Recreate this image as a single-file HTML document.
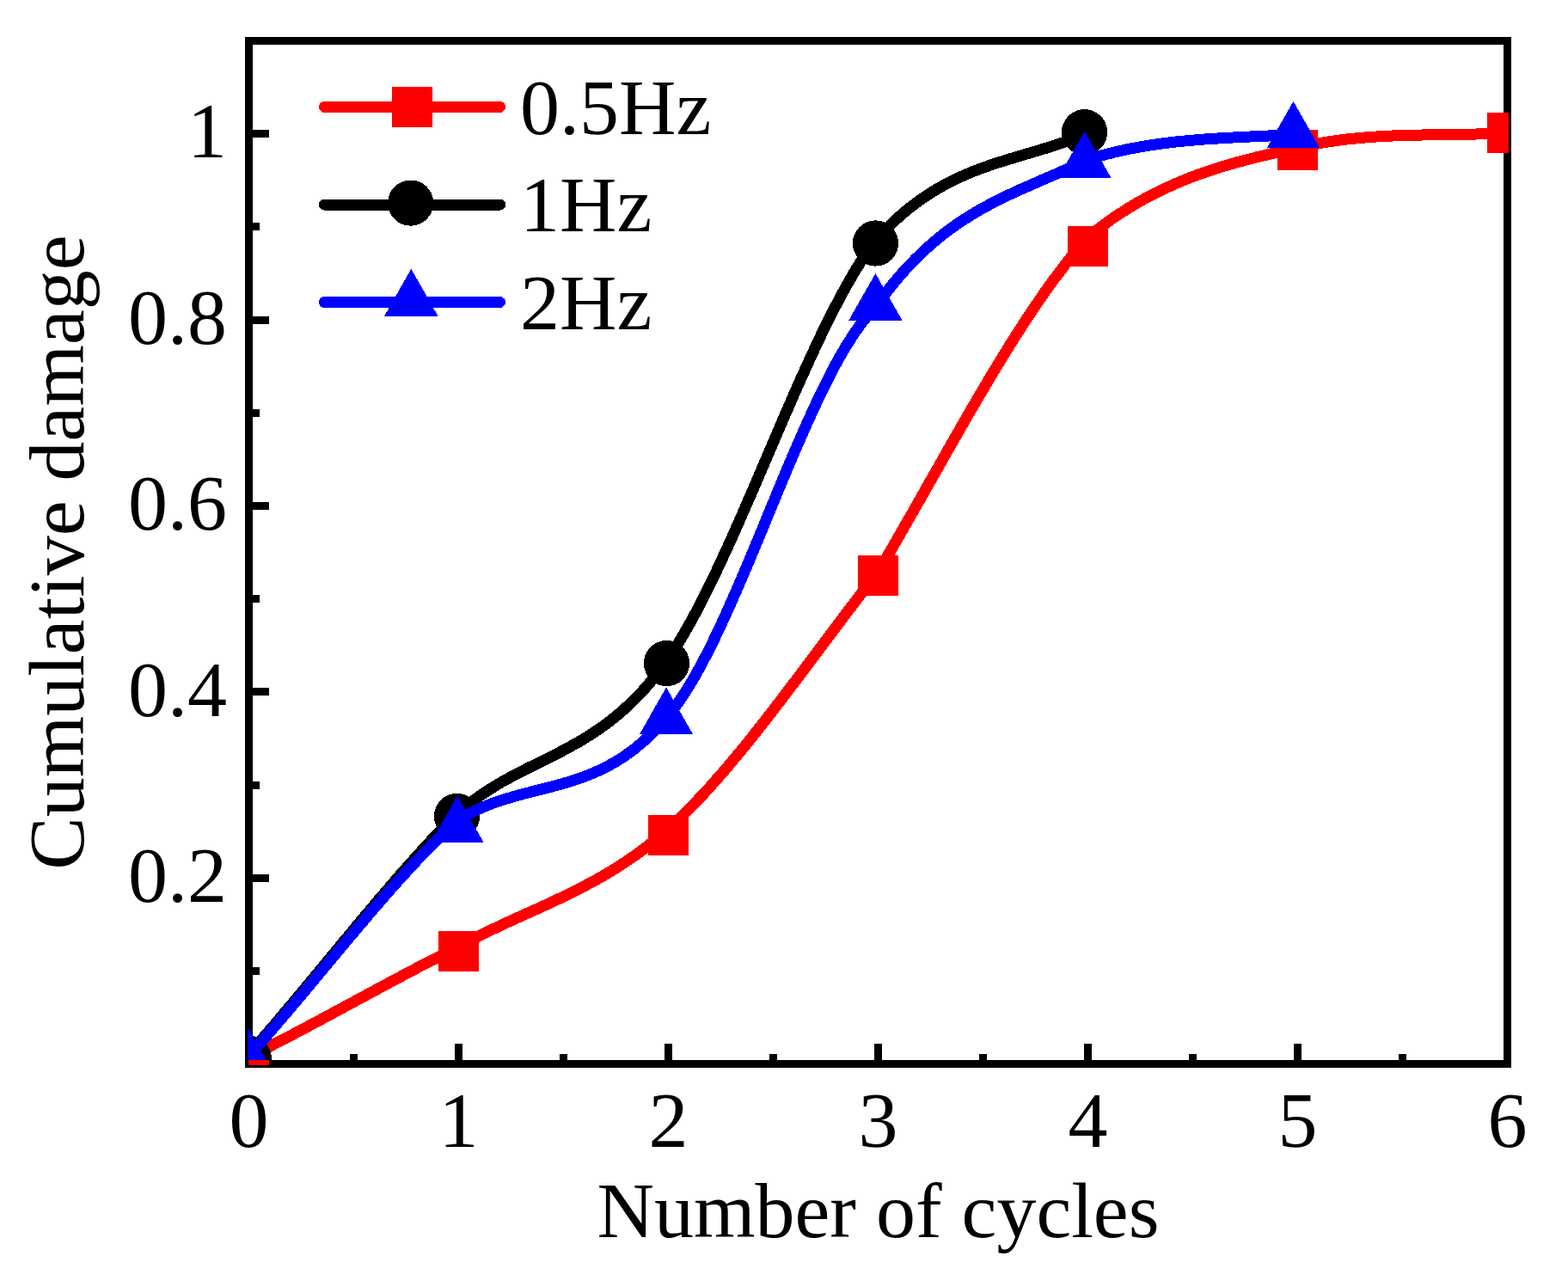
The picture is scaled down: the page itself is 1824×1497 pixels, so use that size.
<!DOCTYPE html>
<html><head><meta charset="utf-8"><title>Cumulative damage vs Number of cycles</title>
<style>html,body{margin:0;padding:0;background:#fff;overflow:hidden;}svg{display:block;}</style></head>
<body><svg shape-rendering="crispEdges" width="1824" height="1497" viewBox="0 0 1824 1497">
<rect width="1824" height="1497" fill="#fff"/>
<rect x="289.5" y="47.5" width="1464" height="1190" fill="none" stroke="#000" stroke-width="9"/>
<path d="M533.5,1237 V1214 M777.5,1237 V1214 M1021.5,1237 V1214 M1265.5,1237 V1214 M1509.5,1237 V1214 M411.5,1237 V1226 M655.5,1237 V1226 M899.5,1237 V1226 M1143.5,1237 V1226 M1387.5,1237 V1226 M1631.5,1237 V1226 M290,1021.1 H313 M290,804.8 H313 M290,588.4 H313 M290,372.0 H313 M290,155.7 H313 M290,1129.3 H302 M290,913.0 H302 M290,696.6 H302 M290,480.2 H302 M290,263.9 H302" stroke="#000" stroke-width="9" fill="none"/>
<defs><clipPath id="cr"><rect x="289" y="40" width="1466" height="1199"/></clipPath><clipPath id="cb"><rect x="288" y="40" width="1466" height="1193"/></clipPath></defs>
<g clip-path="url(#cr)"><path d="M289.5,1229.3 L292.5,1227.8 L295.5,1226.3 L298.5,1224.8 L301.5,1223.3 L304.6,1221.8 L307.6,1220.3 L310.6,1218.8 L313.6,1217.2 L316.6,1215.7 L319.6,1214.1 L322.6,1212.6 L325.6,1211.0 L328.7,1209.5 L331.7,1207.9 L334.7,1206.3 L337.7,1204.8 L340.7,1203.2 L343.7,1201.6 L346.7,1200.0 L349.7,1198.4 L352.8,1196.8 L355.8,1195.2 L358.8,1193.6 L361.8,1192.0 L364.8,1190.4 L367.8,1188.8 L370.8,1187.2 L373.8,1185.6 L376.9,1184.0 L379.9,1182.4 L382.9,1180.8 L385.9,1179.1 L388.9,1177.5 L391.9,1175.9 L394.9,1174.3 L397.9,1172.6 L401.0,1171.0 L404.0,1169.4 L407.0,1167.8 L410.0,1166.1 L413.0,1164.5 L416.0,1162.9 L419.0,1161.2 L422.0,1159.6 L425.1,1158.0 L428.1,1156.4 L431.1,1154.7 L434.1,1153.1 L437.1,1151.5 L440.1,1149.9 L443.1,1148.2 L446.1,1146.6 L449.2,1145.0 L452.2,1143.4 L455.2,1141.8 L458.2,1140.2 L461.2,1138.6 L464.2,1137.0 L467.2,1135.4 L470.2,1133.8 L473.3,1132.2 L476.3,1130.6 L479.3,1129.0 L482.3,1127.4 L485.3,1125.8 L488.3,1124.3 L491.3,1122.7 L494.3,1121.1 L497.4,1119.6 L500.4,1118.0 L503.4,1116.5 L506.4,1114.9 L509.4,1113.4 L512.4,1111.8 L515.4,1110.3 L518.4,1108.8 L521.5,1107.3 L524.5,1105.8 L527.5,1104.3 L530.5,1102.8 L533.5,1101.3 L533.5,1101.3 L536.5,1099.6 L539.5,1098.0 L542.5,1096.3 L545.5,1094.7 L548.6,1093.1 L551.6,1091.6 L554.6,1090.0 L557.6,1088.5 L560.6,1087.0 L563.6,1085.5 L566.6,1084.0 L569.6,1082.5 L572.7,1081.1 L575.7,1079.7 L578.7,1078.2 L581.7,1076.8 L584.7,1075.4 L587.7,1074.0 L590.7,1072.6 L593.7,1071.2 L596.8,1069.8 L599.8,1068.5 L602.8,1067.1 L605.8,1065.7 L608.8,1064.4 L611.8,1063.0 L614.8,1061.7 L617.8,1060.3 L620.9,1058.9 L623.9,1057.6 L626.9,1056.2 L629.9,1054.8 L632.9,1053.5 L635.9,1052.1 L638.9,1050.7 L641.9,1049.3 L645.0,1047.9 L648.0,1046.5 L651.0,1045.0 L654.0,1043.6 L657.0,1042.2 L660.0,1040.7 L663.0,1039.2 L666.0,1037.7 L669.1,1036.2 L672.1,1034.7 L675.1,1033.2 L678.1,1031.6 L681.1,1030.0 L684.1,1028.4 L687.1,1026.8 L690.1,1025.2 L693.2,1023.5 L696.2,1021.8 L699.2,1020.1 L702.2,1018.4 L705.2,1016.6 L708.2,1014.8 L711.2,1013.0 L714.2,1011.2 L717.3,1009.3 L720.3,1007.4 L723.3,1005.4 L726.3,1003.5 L729.3,1001.4 L732.3,999.4 L735.3,997.3 L738.3,995.2 L741.4,993.1 L744.4,990.9 L747.4,988.6 L750.4,986.4 L753.4,984.0 L756.4,981.7 L759.4,979.3 L762.4,976.8 L765.5,974.4 L768.5,971.8 L771.5,969.2 L774.5,966.6 L777.5,963.9 L777.5,963.9 L780.5,961.2 L783.5,958.5 L786.5,955.7 L789.5,952.8 L792.6,949.9 L795.6,947.0 L798.6,944.0 L801.6,941.0 L804.6,937.9 L807.6,934.8 L810.6,931.7 L813.6,928.5 L816.7,925.3 L819.7,922.1 L822.7,918.8 L825.7,915.5 L828.7,912.1 L831.7,908.7 L834.7,905.3 L837.7,901.9 L840.8,898.4 L843.8,894.9 L846.8,891.4 L849.8,887.8 L852.8,884.2 L855.8,880.6 L858.8,877.0 L861.8,873.3 L864.9,869.7 L867.9,866.0 L870.9,862.2 L873.9,858.5 L876.9,854.7 L879.9,850.9 L882.9,847.1 L885.9,843.3 L889.0,839.4 L892.0,835.6 L895.0,831.7 L898.0,827.8 L901.0,823.9 L904.0,820.0 L907.0,816.1 L910.0,812.1 L913.1,808.2 L916.1,804.2 L919.1,800.2 L922.1,796.2 L925.1,792.3 L928.1,788.3 L931.1,784.3 L934.1,780.3 L937.2,776.2 L940.2,772.2 L943.2,768.2 L946.2,764.2 L949.2,760.2 L952.2,756.1 L955.2,752.1 L958.2,748.1 L961.3,744.1 L964.3,740.1 L967.3,736.1 L970.3,732.1 L973.3,728.0 L976.3,724.1 L979.3,720.1 L982.3,716.1 L985.4,712.1 L988.4,708.1 L991.4,704.2 L994.4,700.2 L997.4,696.3 L1000.4,692.4 L1003.4,688.5 L1006.4,684.6 L1009.5,680.7 L1012.5,676.8 L1015.5,673.0 L1018.5,669.2 L1021.5,665.4 L1021.5,665.4 L1024.5,660.2 L1027.5,655.1 L1030.5,649.9 L1033.5,644.8 L1036.6,639.6 L1039.6,634.4 L1042.6,629.2 L1045.6,623.9 L1048.6,618.7 L1051.6,613.4 L1054.6,608.1 L1057.6,602.9 L1060.7,597.6 L1063.7,592.3 L1066.7,587.0 L1069.7,581.7 L1072.7,576.4 L1075.7,571.1 L1078.7,565.7 L1081.7,560.4 L1084.8,555.1 L1087.8,549.8 L1090.8,544.5 L1093.8,539.2 L1096.8,533.9 L1099.8,528.6 L1102.8,523.3 L1105.8,518.0 L1108.9,512.7 L1111.9,507.4 L1114.9,502.2 L1117.9,496.9 L1120.9,491.7 L1123.9,486.5 L1126.9,481.2 L1129.9,476.1 L1133.0,470.9 L1136.0,465.7 L1139.0,460.6 L1142.0,455.5 L1145.0,450.4 L1148.0,445.3 L1151.0,440.3 L1154.0,435.2 L1157.1,430.2 L1160.1,425.2 L1163.1,420.3 L1166.1,415.4 L1169.1,410.5 L1172.1,405.6 L1175.1,400.8 L1178.1,396.0 L1181.2,391.2 L1184.2,386.5 L1187.2,381.8 L1190.2,377.2 L1193.2,372.6 L1196.2,368.0 L1199.2,363.5 L1202.2,359.0 L1205.3,354.5 L1208.3,350.1 L1211.3,345.7 L1214.3,341.4 L1217.3,337.1 L1220.3,332.9 L1223.3,328.7 L1226.3,324.6 L1229.4,320.5 L1232.4,316.5 L1235.4,312.5 L1238.4,308.6 L1241.4,304.7 L1244.4,300.9 L1247.4,297.2 L1250.4,293.5 L1253.5,289.8 L1256.5,286.3 L1259.5,282.7 L1262.5,279.3 L1265.5,275.9 L1265.5,275.9 L1268.5,273.5 L1271.5,271.0 L1274.5,268.7 L1277.5,266.4 L1280.6,264.1 L1283.6,261.8 L1286.6,259.6 L1289.6,257.5 L1292.6,255.3 L1295.6,253.2 L1298.6,251.2 L1301.6,249.2 L1304.7,247.2 L1307.7,245.3 L1310.7,243.4 L1313.7,241.5 L1316.7,239.7 L1319.7,237.9 L1322.7,236.1 L1325.7,234.4 L1328.8,232.7 L1331.8,231.0 L1334.8,229.4 L1337.8,227.8 L1340.8,226.2 L1343.8,224.7 L1346.8,223.2 L1349.8,221.7 L1352.9,220.3 L1355.9,218.9 L1358.9,217.5 L1361.9,216.1 L1364.9,214.8 L1367.9,213.4 L1370.9,212.2 L1373.9,210.9 L1377.0,209.7 L1380.0,208.4 L1383.0,207.3 L1386.0,206.1 L1389.0,204.9 L1392.0,203.8 L1395.0,202.7 L1398.0,201.6 L1401.1,200.6 L1404.1,199.6 L1407.1,198.5 L1410.1,197.5 L1413.1,196.6 L1416.1,195.6 L1419.1,194.7 L1422.1,193.7 L1425.2,192.8 L1428.2,191.9 L1431.2,191.0 L1434.2,190.2 L1437.2,189.3 L1440.2,188.5 L1443.2,187.7 L1446.2,186.9 L1449.3,186.1 L1452.3,185.3 L1455.3,184.5 L1458.3,183.8 L1461.3,183.0 L1464.3,182.3 L1467.3,181.5 L1470.3,180.8 L1473.4,180.1 L1476.4,179.4 L1479.4,178.7 L1482.4,178.0 L1485.4,177.3 L1488.4,176.6 L1491.4,176.0 L1494.4,175.3 L1497.5,174.6 L1500.5,174.0 L1503.5,173.3 L1506.5,172.7 L1509.5,172.0 L1509.5,172.0 L1512.5,171.3 L1515.5,170.6 L1518.5,169.9 L1521.5,169.3 L1524.6,168.7 L1527.6,168.1 L1530.6,167.5 L1533.6,166.9 L1536.6,166.4 L1539.6,165.9 L1542.6,165.4 L1545.6,164.9 L1548.7,164.4 L1551.7,164.0 L1554.7,163.6 L1557.7,163.1 L1560.7,162.8 L1563.7,162.4 L1566.7,162.0 L1569.7,161.7 L1572.8,161.4 L1575.8,161.1 L1578.8,160.8 L1581.8,160.5 L1584.8,160.2 L1587.8,160.0 L1590.8,159.7 L1593.8,159.5 L1596.9,159.3 L1599.9,159.1 L1602.9,158.9 L1605.9,158.7 L1608.9,158.5 L1611.9,158.4 L1614.9,158.2 L1617.9,158.1 L1621.0,157.9 L1624.0,157.8 L1627.0,157.7 L1630.0,157.6 L1633.0,157.5 L1636.0,157.4 L1639.0,157.3 L1642.0,157.2 L1645.1,157.2 L1648.1,157.1 L1651.1,157.0 L1654.1,157.0 L1657.1,156.9 L1660.1,156.9 L1663.1,156.8 L1666.1,156.8 L1669.2,156.7 L1672.2,156.7 L1675.2,156.6 L1678.2,156.6 L1681.2,156.6 L1684.2,156.5 L1687.2,156.5 L1690.2,156.4 L1693.3,156.4 L1696.3,156.4 L1699.3,156.3 L1702.3,156.3 L1705.3,156.2 L1708.3,156.2 L1711.3,156.1 L1714.3,156.1 L1717.4,156.0 L1720.4,155.9 L1723.4,155.8 L1726.4,155.8 L1729.4,155.7 L1732.4,155.6 L1735.4,155.5 L1738.4,155.4 L1741.5,155.3 L1744.5,155.2 L1747.5,155.0 L1750.5,154.9 L1753.5,154.7" stroke="#f00" stroke-width="13" fill="none" stroke-linejoin="round" stroke-linecap="round"/>
<g fill="#f00"><rect x="266.0" y="1210.0" width="47" height="47"/><rect x="510.0" y="1083.0" width="47" height="47"/><rect x="754.0" y="947.5" width="47" height="47"/><rect x="998.0" y="646.0" width="47" height="47"/><rect x="1242.0" y="263.3" width="47" height="47"/><rect x="1486.0" y="151.0" width="47" height="47"/><rect x="1730.0" y="131.4" width="47" height="47"/></g></g>
<g clip-path="url(#cb)"><path d="M288.6,1227.2 L291.6,1223.7 L294.7,1220.3 L297.7,1216.8 L300.7,1213.4 L303.8,1209.9 L306.8,1206.4 L309.9,1202.9 L312.9,1199.3 L315.9,1195.8 L319.0,1192.3 L322.0,1188.7 L325.0,1185.1 L328.1,1181.5 L331.1,1177.9 L334.1,1174.3 L337.2,1170.7 L340.2,1167.1 L343.3,1163.5 L346.3,1159.9 L349.3,1156.2 L352.4,1152.6 L355.4,1148.9 L358.4,1145.3 L361.5,1141.6 L364.5,1138.0 L367.5,1134.3 L370.6,1130.6 L373.6,1127.0 L376.7,1123.3 L379.7,1119.6 L382.7,1115.9 L385.8,1112.3 L388.8,1108.6 L391.8,1104.9 L394.9,1101.3 L397.9,1097.6 L400.9,1093.9 L404.0,1090.3 L407.0,1086.6 L410.1,1083.0 L413.1,1079.3 L416.1,1075.7 L419.2,1072.0 L422.2,1068.4 L425.2,1064.8 L428.3,1061.2 L431.3,1057.6 L434.3,1054.0 L437.4,1050.4 L440.4,1046.8 L443.4,1043.2 L446.5,1039.7 L449.5,1036.1 L452.6,1032.6 L455.6,1029.1 L458.6,1025.6 L461.7,1022.1 L464.7,1018.6 L467.7,1015.1 L470.8,1011.7 L473.8,1008.2 L476.8,1004.8 L479.9,1001.4 L482.9,998.0 L486.0,994.7 L489.0,991.3 L492.0,988.0 L495.1,984.7 L498.1,981.4 L501.1,978.1 L504.2,974.8 L507.2,971.6 L510.2,968.4 L513.3,965.2 L516.3,962.0 L519.4,958.9 L522.4,955.8 L525.4,952.7 L528.5,949.6 L531.5,946.6 L531.5,946.6 L534.5,944.0 L537.5,941.4 L540.5,939.0 L543.5,936.6 L546.6,934.2 L549.6,931.9 L552.6,929.7 L555.6,927.6 L558.6,925.4 L561.6,923.4 L564.6,921.4 L567.6,919.4 L570.7,917.5 L573.7,915.6 L576.7,913.8 L579.7,912.0 L582.7,910.2 L585.7,908.5 L588.7,906.8 L591.7,905.2 L594.8,903.5 L597.8,901.9 L600.8,900.3 L603.8,898.7 L606.8,897.2 L609.8,895.7 L612.8,894.1 L615.8,892.6 L618.9,891.1 L621.9,889.6 L624.9,888.1 L627.9,886.6 L630.9,885.1 L633.9,883.7 L636.9,882.2 L639.9,880.7 L643.0,879.1 L646.0,877.6 L649.0,876.1 L652.0,874.5 L655.0,873.0 L658.0,871.4 L661.0,869.7 L664.0,868.1 L667.1,866.4 L670.1,864.7 L673.1,863.0 L676.1,861.2 L679.1,859.4 L682.1,857.6 L685.1,855.7 L688.1,853.8 L691.2,851.8 L694.2,849.8 L697.2,847.7 L700.2,845.6 L703.2,843.4 L706.2,841.2 L709.2,838.9 L712.2,836.6 L715.3,834.1 L718.3,831.7 L721.3,829.1 L724.3,826.5 L727.3,823.8 L730.3,821.0 L733.3,818.2 L736.3,815.3 L739.4,812.3 L742.4,809.2 L745.4,806.0 L748.4,802.7 L751.4,799.4 L754.4,795.9 L757.4,792.4 L760.4,788.7 L763.5,785.0 L766.5,781.1 L769.5,777.2 L772.5,773.1 L775.5,769.0 L775.5,769.0 L778.5,764.6 L781.5,760.1 L784.5,755.4 L787.5,750.6 L790.5,745.8 L793.5,740.7 L796.5,735.6 L799.5,730.4 L802.5,725.0 L805.5,719.6 L808.5,714.0 L811.5,708.3 L814.5,702.6 L817.5,696.7 L820.5,690.8 L823.5,684.8 L826.5,678.7 L829.5,672.5 L832.5,666.2 L835.5,659.9 L838.5,653.5 L841.5,647.0 L844.5,640.5 L847.5,633.9 L850.5,627.3 L853.5,620.6 L856.5,613.9 L859.5,607.1 L862.5,600.3 L865.5,593.5 L868.5,586.6 L871.5,579.7 L874.5,572.8 L877.5,565.8 L880.5,558.8 L883.5,551.9 L886.5,544.9 L889.5,537.9 L892.5,530.9 L895.5,523.8 L898.5,516.8 L901.5,509.8 L904.5,502.9 L907.5,495.9 L910.5,488.9 L913.5,482.0 L916.5,475.1 L919.5,468.2 L922.5,461.3 L925.5,454.5 L928.5,447.8 L931.5,441.0 L934.5,434.3 L937.5,427.7 L940.5,421.1 L943.5,414.6 L946.5,408.1 L949.5,401.7 L952.5,395.3 L955.5,389.0 L958.5,382.8 L961.5,376.7 L964.5,370.7 L967.5,364.7 L970.5,358.8 L973.5,353.1 L976.5,347.4 L979.5,341.8 L982.5,336.3 L985.5,330.9 L988.5,325.6 L991.5,320.5 L994.5,315.4 L997.5,310.5 L1000.5,305.7 L1003.5,301.0 L1006.5,296.5 L1009.5,292.1 L1012.5,287.8 L1015.5,283.7 L1018.5,279.7 L1018.5,279.7 L1021.5,276.3 L1024.5,273.1 L1027.5,269.9 L1030.5,266.8 L1033.5,263.8 L1036.5,260.8 L1039.5,258.0 L1042.5,255.2 L1045.5,252.5 L1048.5,249.8 L1051.5,247.3 L1054.5,244.8 L1057.5,242.3 L1060.5,240.0 L1063.5,237.7 L1066.5,235.4 L1069.5,233.3 L1072.5,231.2 L1075.5,229.1 L1078.5,227.1 L1081.5,225.2 L1084.5,223.3 L1087.5,221.4 L1090.5,219.7 L1093.5,217.9 L1096.5,216.2 L1099.5,214.6 L1102.5,213.0 L1105.5,211.5 L1108.5,210.0 L1111.5,208.5 L1114.5,207.1 L1117.5,205.7 L1120.5,204.4 L1123.5,203.1 L1126.5,201.8 L1129.5,200.5 L1132.5,199.3 L1135.5,198.1 L1138.5,197.0 L1141.6,195.9 L1144.6,194.8 L1147.6,193.7 L1150.6,192.6 L1153.6,191.6 L1156.6,190.6 L1159.6,189.6 L1162.6,188.6 L1165.6,187.7 L1168.6,186.7 L1171.6,185.8 L1174.6,184.9 L1177.6,184.0 L1180.6,183.1 L1183.6,182.2 L1186.6,181.3 L1189.6,180.4 L1192.6,179.5 L1195.6,178.6 L1198.6,177.7 L1201.6,176.8 L1204.6,176.0 L1207.6,175.1 L1210.6,174.2 L1213.6,173.2 L1216.6,172.3 L1219.6,171.4 L1222.6,170.5 L1225.6,169.5 L1228.6,168.5 L1231.6,167.5 L1234.6,166.5 L1237.6,165.5 L1240.6,164.5 L1243.6,163.4 L1246.6,162.3 L1249.6,161.2 L1252.6,160.1 L1255.6,158.9 L1258.6,157.7 L1261.6,156.5" stroke="#000" stroke-width="13" fill="none" stroke-linejoin="round" stroke-linecap="round"/>
<g fill="#000"><circle cx="289.3" cy="1231.0" r="26.6"/><circle cx="531.5" cy="949.4" r="26.6"/><circle cx="775.5" cy="771.6" r="26.6"/><circle cx="1018.5" cy="283.0" r="26.6"/><circle cx="1261.6" cy="153.7" r="26.6"/></g>
<path d="M288.6,1229.2 L291.6,1225.8 L294.6,1222.5 L297.6,1219.1 L300.6,1215.7 L303.6,1212.3 L306.6,1208.9 L309.6,1205.4 L312.6,1202.0 L315.6,1198.5 L318.6,1195.0 L321.6,1191.5 L324.6,1188.0 L327.6,1184.5 L330.7,1181.0 L333.7,1177.4 L336.7,1173.9 L339.7,1170.3 L342.7,1166.8 L345.7,1163.2 L348.7,1159.6 L351.7,1156.0 L354.7,1152.5 L357.7,1148.9 L360.7,1145.3 L363.7,1141.7 L366.7,1138.0 L369.7,1134.4 L372.7,1130.8 L375.7,1127.2 L378.7,1123.6 L381.7,1120.0 L384.7,1116.4 L387.7,1112.8 L390.7,1109.2 L393.7,1105.6 L396.7,1102.0 L399.7,1098.4 L402.7,1094.8 L405.7,1091.2 L408.7,1087.6 L411.8,1084.1 L414.8,1080.5 L417.8,1076.9 L420.8,1073.4 L423.8,1069.9 L426.8,1066.3 L429.8,1062.8 L432.8,1059.3 L435.8,1055.8 L438.8,1052.3 L441.8,1048.9 L444.8,1045.4 L447.8,1042.0 L450.8,1038.6 L453.8,1035.1 L456.8,1031.8 L459.8,1028.4 L462.8,1025.0 L465.8,1021.7 L468.8,1018.4 L471.8,1015.1 L474.8,1011.8 L477.8,1008.5 L480.8,1005.3 L483.8,1002.1 L486.8,998.9 L489.8,995.7 L492.9,992.6 L495.9,989.5 L498.9,986.4 L501.9,983.3 L504.9,980.3 L507.9,977.3 L510.9,974.3 L513.9,971.4 L516.9,968.4 L519.9,965.5 L522.9,962.7 L525.9,959.8 L528.9,957.0 L531.9,954.3 L531.9,954.3 L534.9,952.5 L537.9,950.7 L540.9,949.0 L543.9,947.4 L546.9,945.8 L549.9,944.3 L552.9,942.8 L555.9,941.5 L558.9,940.1 L561.9,938.8 L564.9,937.6 L567.9,936.4 L570.9,935.2 L573.9,934.1 L576.9,933.0 L579.9,932.0 L582.9,931.0 L585.9,930.0 L588.9,929.1 L591.9,928.2 L594.9,927.3 L597.9,926.4 L600.9,925.6 L603.9,924.8 L606.9,923.9 L609.9,923.2 L612.9,922.4 L615.9,921.6 L618.9,920.8 L621.9,920.1 L624.9,919.3 L627.9,918.6 L630.9,917.8 L633.9,917.1 L636.9,916.3 L639.9,915.5 L642.9,914.7 L645.9,913.9 L648.9,913.1 L651.9,912.3 L655.0,911.4 L658.0,910.5 L661.0,909.6 L664.0,908.7 L667.0,907.8 L670.0,906.8 L673.0,905.8 L676.0,904.7 L679.0,903.6 L682.0,902.5 L685.0,901.3 L688.0,900.1 L691.0,898.8 L694.0,897.5 L697.0,896.1 L700.0,894.7 L703.0,893.2 L706.0,891.7 L709.0,890.1 L712.0,888.4 L715.0,886.7 L718.0,884.9 L721.0,883.0 L724.0,881.1 L727.0,879.1 L730.0,877.0 L733.0,874.8 L736.0,872.6 L739.0,870.3 L742.0,867.8 L745.0,865.3 L748.0,862.7 L751.0,860.1 L754.0,857.3 L757.0,854.4 L760.0,851.4 L763.0,848.3 L766.0,845.2 L769.0,841.9 L772.0,838.5 L775.0,835.0 L775.0,835.0 L778.0,831.5 L781.0,827.8 L784.0,824.0 L787.0,819.9 L790.0,815.7 L793.0,811.3 L796.0,806.8 L799.0,802.0 L802.0,797.1 L805.0,792.1 L808.1,786.9 L811.1,781.6 L814.1,776.1 L817.1,770.5 L820.1,764.8 L823.1,759.0 L826.1,753.0 L829.1,746.9 L832.1,740.8 L835.1,734.5 L838.1,728.1 L841.1,721.6 L844.1,715.0 L847.1,708.4 L850.1,701.7 L853.1,694.9 L856.1,688.0 L859.1,681.1 L862.1,674.1 L865.1,667.1 L868.2,660.0 L871.2,652.8 L874.2,645.7 L877.2,638.5 L880.2,631.3 L883.2,624.0 L886.2,616.8 L889.2,609.5 L892.2,602.2 L895.2,594.9 L898.2,587.7 L901.2,580.4 L904.2,573.1 L907.2,565.9 L910.2,558.7 L913.2,551.5 L916.2,544.3 L919.2,537.2 L922.2,530.2 L925.2,523.1 L928.3,516.2 L931.3,509.3 L934.3,502.4 L937.3,495.7 L940.3,489.0 L943.3,482.3 L946.3,475.8 L949.3,469.4 L952.3,463.0 L955.3,456.7 L958.3,450.6 L961.3,444.6 L964.3,438.6 L967.3,432.8 L970.3,427.1 L973.3,421.6 L976.3,416.2 L979.3,410.9 L982.3,405.8 L985.3,400.8 L988.4,396.0 L991.4,391.3 L994.4,386.8 L997.4,382.5 L1000.4,378.3 L1003.4,374.3 L1006.4,370.5 L1009.4,366.9 L1012.4,363.5 L1015.4,360.3 L1018.4,357.3 L1018.4,357.3 L1021.4,353.1 L1024.4,348.9 L1027.4,344.9 L1030.4,340.9 L1033.4,337.0 L1036.4,333.3 L1039.4,329.5 L1042.4,325.9 L1045.4,322.4 L1048.4,318.9 L1051.4,315.5 L1054.4,312.2 L1057.4,309.0 L1060.5,305.8 L1063.5,302.7 L1066.5,299.7 L1069.5,296.8 L1072.5,293.9 L1075.5,291.1 L1078.5,288.3 L1081.5,285.7 L1084.5,283.0 L1087.5,280.5 L1090.5,278.0 L1093.5,275.5 L1096.5,273.1 L1099.5,270.8 L1102.5,268.5 L1105.5,266.3 L1108.5,264.1 L1111.5,262.0 L1114.5,259.9 L1117.5,257.9 L1120.5,255.9 L1123.5,254.0 L1126.5,252.1 L1129.5,250.2 L1132.5,248.4 L1135.5,246.6 L1138.5,244.8 L1141.6,243.1 L1144.6,241.4 L1147.6,239.8 L1150.6,238.2 L1153.6,236.6 L1156.6,235.0 L1159.6,233.5 L1162.6,232.0 L1165.6,230.5 L1168.6,229.1 L1171.6,227.6 L1174.6,226.2 L1177.6,224.8 L1180.6,223.4 L1183.6,222.0 L1186.6,220.7 L1189.6,219.3 L1192.6,218.0 L1195.6,216.7 L1198.6,215.4 L1201.6,214.0 L1204.6,212.7 L1207.6,211.4 L1210.6,210.1 L1213.6,208.8 L1216.6,207.5 L1219.6,206.2 L1222.7,204.9 L1225.7,203.6 L1228.7,202.3 L1231.7,201.0 L1234.7,199.6 L1237.7,198.3 L1240.7,196.9 L1243.7,195.5 L1246.7,194.2 L1249.7,192.8 L1252.7,191.3 L1255.7,189.9 L1258.7,188.4 L1261.7,186.9 L1261.7,186.9 L1264.7,186.0 L1267.8,185.0 L1270.8,184.0 L1273.8,183.1 L1276.9,182.2 L1279.9,181.4 L1282.9,180.5 L1286.0,179.7 L1289.0,178.9 L1292.0,178.2 L1295.1,177.4 L1298.1,176.7 L1301.2,176.0 L1304.2,175.3 L1307.2,174.6 L1310.3,174.0 L1313.3,173.3 L1316.3,172.7 L1319.4,172.2 L1322.4,171.6 L1325.4,171.0 L1328.5,170.5 L1331.5,170.0 L1334.5,169.5 L1337.6,169.0 L1340.6,168.5 L1343.6,168.1 L1346.7,167.7 L1349.7,167.2 L1352.8,166.8 L1355.8,166.4 L1358.8,166.1 L1361.9,165.7 L1364.9,165.4 L1367.9,165.0 L1371.0,164.7 L1374.0,164.4 L1377.0,164.1 L1380.1,163.8 L1383.1,163.5 L1386.1,163.2 L1389.2,163.0 L1392.2,162.7 L1395.2,162.5 L1398.3,162.3 L1401.3,162.0 L1404.3,161.8 L1407.4,161.6 L1410.4,161.4 L1413.5,161.2 L1416.5,161.0 L1419.5,160.8 L1422.6,160.6 L1425.6,160.5 L1428.6,160.3 L1431.7,160.1 L1434.7,160.0 L1437.7,159.8 L1440.8,159.7 L1443.8,159.5 L1446.8,159.4 L1449.9,159.2 L1452.9,159.1 L1455.9,158.9 L1459.0,158.8 L1462.0,158.6 L1465.0,158.5 L1468.1,158.3 L1471.1,158.2 L1474.2,158.1 L1477.2,157.9 L1480.2,157.8 L1483.3,157.6 L1486.3,157.4 L1489.3,157.3 L1492.4,157.1 L1495.4,156.9 L1498.4,156.8 L1501.5,156.6 L1504.5,156.4" stroke="#00f" stroke-width="13" fill="none" stroke-linejoin="round" stroke-linecap="round"/>
<g fill="#00f"><polygon points="288.6,1196.0 319.6,1250.5 257.6,1250.5"/><polygon points="531.9,925.8 562.9,980.3 500.9,980.3"/><polygon points="775.0,799.5 806.0,854.0 744.0,854.0"/><polygon points="1018.4,318.0 1049.4,372.5 987.4,372.5"/><polygon points="1261.7,152.7 1292.7,207.2 1230.7,207.2"/><polygon points="1504.5,117.8 1535.5,172.3 1473.5,172.3"/></g></g>
<g stroke-width="13" stroke-linecap="round"><path d="M377.5,124.4 H581.5" stroke="#f00"/><path d="M377.5,238 H581.5" stroke="#000"/><path d="M377.5,351.5 H581.5" stroke="#00f"/></g>
<g fill="#f00"><rect x="456.0" y="100.5" width="47" height="47"/></g>
<g fill="#000"><circle cx="477.7" cy="236.1" r="26.6"/></g>
<g fill="#00f"><polygon points="478.3,312.7 509.5,367.7 447.1,367.7"/></g>
<g font-family="Liberation Serif, Times New Roman, serif" font-size="92" fill="#000">
<text x="605" y="156.2">0.5Hz</text><text x="605" y="268.9">1Hz</text><text x="605" y="382.8">2Hz</text>
<text x="264" y="1048.8" text-anchor="end">0.2</text>
<text x="264" y="832.5" text-anchor="end">0.4</text>
<text x="264" y="616.1" text-anchor="end">0.6</text>
<text x="264" y="399.7" text-anchor="end">0.8</text>
<text x="264" y="183.4" text-anchor="end">1</text>
<text x="289.5" y="1333.9" text-anchor="middle">0</text>
<text x="533.5" y="1333.9" text-anchor="middle">1</text>
<text x="777.5" y="1333.9" text-anchor="middle">2</text>
<text x="1021.5" y="1333.9" text-anchor="middle">3</text>
<text x="1265.5" y="1333.9" text-anchor="middle">4</text>
<text x="1509.5" y="1333.9" text-anchor="middle">5</text>
<text x="1753.5" y="1333.9" text-anchor="middle">6</text>
<text x="1021.5" y="1439.4" text-anchor="middle">Number of cycles</text>
<text transform="translate(97,642.5) rotate(-90)" text-anchor="middle">Cumulative damage</text>
</g>
</svg></body></html>
